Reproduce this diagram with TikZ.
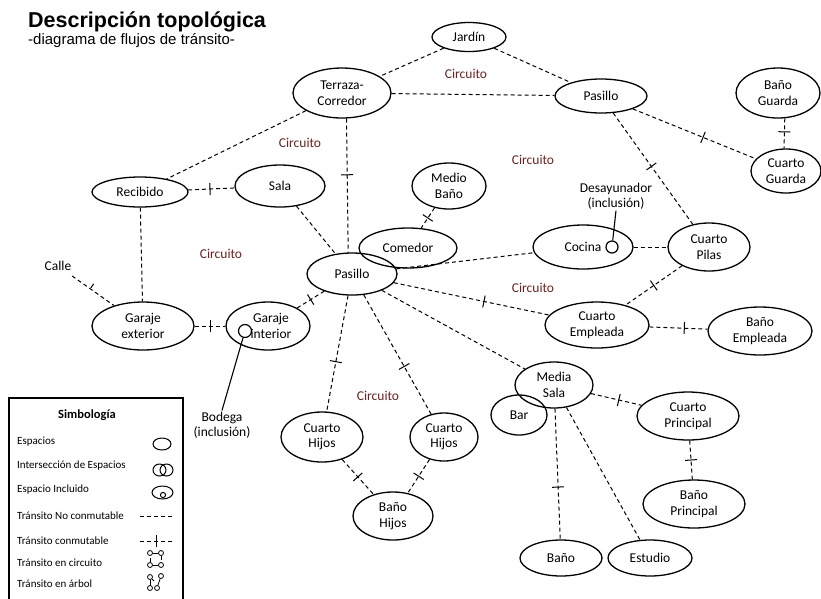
\documentclass[tikz,border=0pt]{standalone}
\usepackage{fontspec}
\setmainfont{Carlito}
\newfontfamily\titlefont{Liberation Sans}
\usetikzlibrary{shapes.geometric,decorations.markings}
\definecolor{circred}{RGB}{112,32,32}
\tikzset{
  sp/.style={ellipse, draw, line width=1.3pt, inner sep=0pt, align=center,
    font=\fontsize{13.5}{15.5}\selectfont},
  incl/.style={circle, draw, line width=1.2pt, inner sep=0pt, minimum size=13pt},
  lbl/.style={align=center, inner sep=1pt, font=\fontsize{13.5}{15.5}\selectfont},
  circ/.style={text=circred, inner sep=0pt, font=\fontsize{13.5}{15.5}\selectfont},
  flow/.style={draw, line width=1pt, dash pattern=on 4pt off 3pt},
  swtick/.style={postaction={decorate}, decoration={markings,
    mark=at position #1 with {\draw[solid, line width=1pt] (0,-6pt) -- (0,6pt);}}},
  swtick/.default=0.5,
  legtxt/.style={anchor=west, inner sep=0pt, font=\fontsize{11}{12}\selectfont},
  legsym/.style={draw, line width=1pt},
  dot/.style={circle, draw, line width=0.8pt, inner sep=0pt, minimum size=5pt},
}
\begin{document}
\begin{tikzpicture}[x=1pt, y=-1pt]
\useasboundingbox (0,0) rectangle (821,598);
\fill[white] (0,0) rectangle (821,598);

% title
\node[anchor=base west, inner sep=0pt, font=\titlefont\bfseries\fontsize{21.5}{24}\selectfont] (title) at (28,27) {Descripción topológica};
\node[anchor=base west, inner sep=0pt, font=\titlefont\fontsize{15}{17}\selectfont] (subtitle) at (28,44) {-diagrama de flujos de tránsito-};

% spaces
\node[sp, minimum width=74pt, minimum height=29pt] (jardin) at (469,37) {Jardín};
\node[sp, minimum width=98pt, minimum height=50pt] (terraza) at (342,93) {Terraza-\\Corredor};
\node[sp, minimum width=92pt, minimum height=34pt] (pasilloA) at (601,96) {Pasillo};
\node[sp, minimum width=84pt, minimum height=50pt] (banoG) at (778,93) {Baño\\Guarda};
\node[sp, minimum width=70pt, minimum height=44pt] (cuartoG) at (786,171) {Cuarto\\Guarda};
\node[sp, minimum width=96pt, minimum height=30pt] (recibido) at (140,192) {Recibido};
\node[sp, minimum width=90pt, minimum height=42pt] (sala) at (280,186) {Sala};
\node[sp, minimum width=102pt, minimum height=48pt] (garajeE) at (143,326) {Garaje\\exterior};
\node[sp, minimum width=84pt, minimum height=48pt] (garajeI) at (268,326) {\hspace*{6pt}Garaje\\\hspace*{6pt}interior};
\node[sp, minimum width=74pt, minimum height=46pt] (medioB) at (449,186) {Medio\\Baño};
\node[sp, minimum width=98pt, minimum height=40pt] (comedor) at (408,248) {Comedor};
\node[sp, minimum width=90pt, minimum height=42pt] (pasillo) at (352,274) {Pasillo};
\node[sp, minimum width=100pt, minimum height=44pt] (cocina) at (583,247) {Cocina};
\node[sp, minimum width=82pt, minimum height=48pt] (pilas) at (709,247) {Cuarto\\Pilas};
\node[sp, minimum width=104pt, minimum height=46pt] (empleada) at (597,325) {Cuarto\\Empleada};
\node[sp, minimum width=104pt, minimum height=48pt] (banoE) at (760,331) {Baño\\Empleada};
\node[sp, minimum width=78pt, minimum height=46pt] (mediaS) at (554,385) {Media\\Sala};
\node[sp, minimum width=56pt, minimum height=40pt] (bar) at (519,415) {Bar};
\node[sp, minimum width=102pt, minimum height=48pt] (principal) at (688,416) {Cuarto\\Principal};
\node[sp, minimum width=102pt, minimum height=48pt] (banoP) at (694,504) {Baño\\Principal};
\node[sp, minimum width=82pt, minimum height=36pt] (bano) at (561,558) {Baño};
\node[sp, minimum width=84pt, minimum height=36pt] (estudio) at (650,558) {Estudio};
\node[sp, minimum width=82pt, minimum height=50pt] (hijosL) at (322,437) {Cuarto\\Hijos};
\node[sp, minimum width=68pt, minimum height=48pt] (hijosR) at (444,437) {Cuarto\\Hijos};
\node[sp, minimum width=80pt, minimum height=48pt] (banoH) at (393,516) {Baño\\Hijos};

% inclusions
\node[incl] (bodegaC) at (245,331) {};
\node[lbl] (bodega) at (222,425) {Bodega\\(inclusión)};
\draw[line width=1.1pt] (bodegaC) -- (bodega.north);
\node[incl, minimum size=12pt] (desC) at (612,247) {};
\node[lbl] (des) at (616,196) {Desayunador\\(inclusión)};
\draw[line width=1.1pt] (des.south) -- (desC);

\node[lbl] (calle) at (58,266) {Calle};

% circuit labels
\node[circ] (c1) at (466,74) {Circuito};
\node[circ] (c2) at (300,143) {Circuito};
\node[circ] (c3) at (533,160) {Circuito};
\node[circ] (c4) at (221,254) {Circuito};
\node[circ] (c5) at (533,288) {Circuito};
\node[circ] (c6) at (378,396) {Circuito};

% transits
\draw[flow] (jardin) -- (terraza);
\draw[flow] (jardin) -- (pasilloA);
\draw[flow] (terraza) -- (pasilloA);
\draw[flow] (terraza) -- (recibido);
\draw[flow, swtick=0.42] (terraza.-80) -- (pasillo.100);
\draw[flow, swtick=0.57] (pasilloA) -- (cuartoG);
\draw[flow, swtick=0.48] (pasilloA) -- (pilas);
\draw[flow, swtick=0.45] (banoG.-75) -- (cuartoG.95);
\draw[flow, swtick=0.47] (recibido) -- (sala);
\draw[flow] (recibido) -- (garajeE);
\draw[flow] (sala) -- (pasillo);
\draw[flow, swtick, shorten <=7pt] (calle) -- (garajeE);
\draw[flow, swtick] (garajeE) -- (garajeI);
\draw[flow, swtick] (garajeI) -- (pasillo);
\draw[flow, swtick] (medioB) -- (comedor);
\draw[flow] (pasillo) -- (cocina);
\draw[flow] (cocina) -- (pilas);
\draw[flow, swtick] (pilas) -- (empleada);
\draw[flow, swtick=0.58] (pasillo) -- (empleada);
\draw[flow, swtick=0.6] (empleada) -- (banoE);
\draw[flow] (pasillo) -- (mediaS);
\draw[flow, swtick=0.57] (pasillo) -- (hijosL);
\draw[flow, swtick=0.6] (pasillo) -- (hijosR);
\draw[flow, swtick] (hijosL) -- (banoH);
\draw[flow, swtick] (hijosR) -- (banoH);
\draw[flow, swtick=0.55] (mediaS) -- (principal);
\draw[flow, swtick] (principal) -- (banoP);
\draw[flow, swtick=0.6] (mediaS) -- (bano);
\draw[flow] (mediaS) -- (estudio);

% legend
\draw[line width=1.2pt] (9,398) rectangle (183,612);
\node[inner sep=0pt, font=\bfseries\fontsize{12.5}{14}\selectfont] (legtitle) at (87,415) {Simbología};
\node[legtxt] (l1) at (17,442) {Espacios};
\node[legtxt] (l2) at (17,466) {Intersección de Espacios};
\node[legtxt] (l3) at (17,490) {Espacio Incluido};
\node[legtxt] (l4) at (17,516) {Tránsito No conmutable};
\node[legtxt] (l5) at (17,541) {Tránsito conmutable};
\node[legtxt] (l6) at (17,563) {Tránsito en circuito};
\node[legtxt] (l7) at (17,584) {Tránsito en árbol};

\draw[legsym] (162,444) ellipse [x radius=9, y radius=6];
\draw[legsym] (159.5,470) ellipse [x radius=6.5, y radius=6];
\draw[legsym] (166.5,470) ellipse [x radius=6.5, y radius=6];
\draw[legsym] (162.5,492.5) ellipse [x radius=10.5, y radius=6.5];
\draw[legsym] (163,495) circle [radius=2.6];
\draw[flow] (140,516) -- (173,516);
\draw[flow] (140,541) -- (173,541);
\draw[line width=1pt] (156,535) -- (156,547);
% circuit symbol
\node[dot] (ca) at (150,553) {};
\node[dot] (cb) at (161,553) {};
\node[dot] (cc) at (150,565) {};
\node[dot] (cd) at (161,565) {};
\draw[line width=0.8pt] (ca) -- (cb);
\draw[line width=0.8pt] (cc) -- (cd);
\draw[line width=0.8pt] (cb.south) -- ++(0,4);
\draw[line width=0.8pt] (cc.north) -- ++(0,-4);
% tree symbol
\node[dot] (ta) at (150,577) {};
\node[dot] (tb) at (161,576) {};
\node[dot] (tc) at (150,588) {};
\node[dot] (td) at (157,588) {};
\draw[line width=0.8pt] (ta) -- (154,581);
\draw[line width=0.8pt] (tb) -- (td);
\draw[line width=0.8pt] (ta) -- (tc);
\end{tikzpicture}
\end{document}
